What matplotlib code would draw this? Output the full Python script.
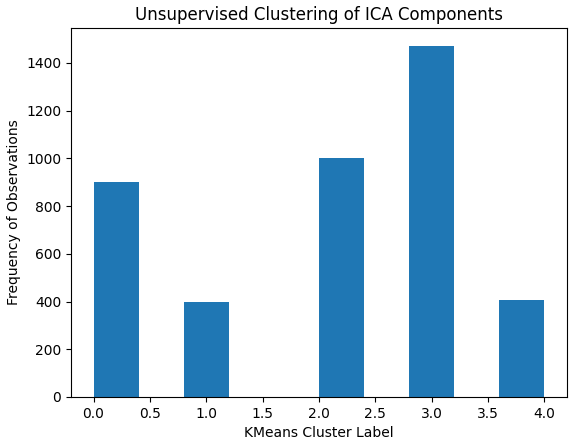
import numpy as np
import matplotlib
matplotlib.use("Agg")
import matplotlib.pyplot as plt

# cluster labels and how many observations fell in each
cluster_labels = [0, 1, 2, 3, 4]
cluster_counts = [901, 397, 1001, 1472, 405]

fig = plt.figure(figsize=(5.87, 4.4), dpi=100)
ax = fig.add_axes([71 / 587, 1 - 397 / 440, 496 / 587, 369 / 440])

ax.hist(cluster_labels, bins=10, weights=cluster_counts)

ax.set_title("Unsupervised Clustering of ICA Components")
ax.set_xlabel("KMeans Cluster Label")
ax.set_ylabel("Frequency of Observations")

fig.savefig("out.png", dpi=100)
